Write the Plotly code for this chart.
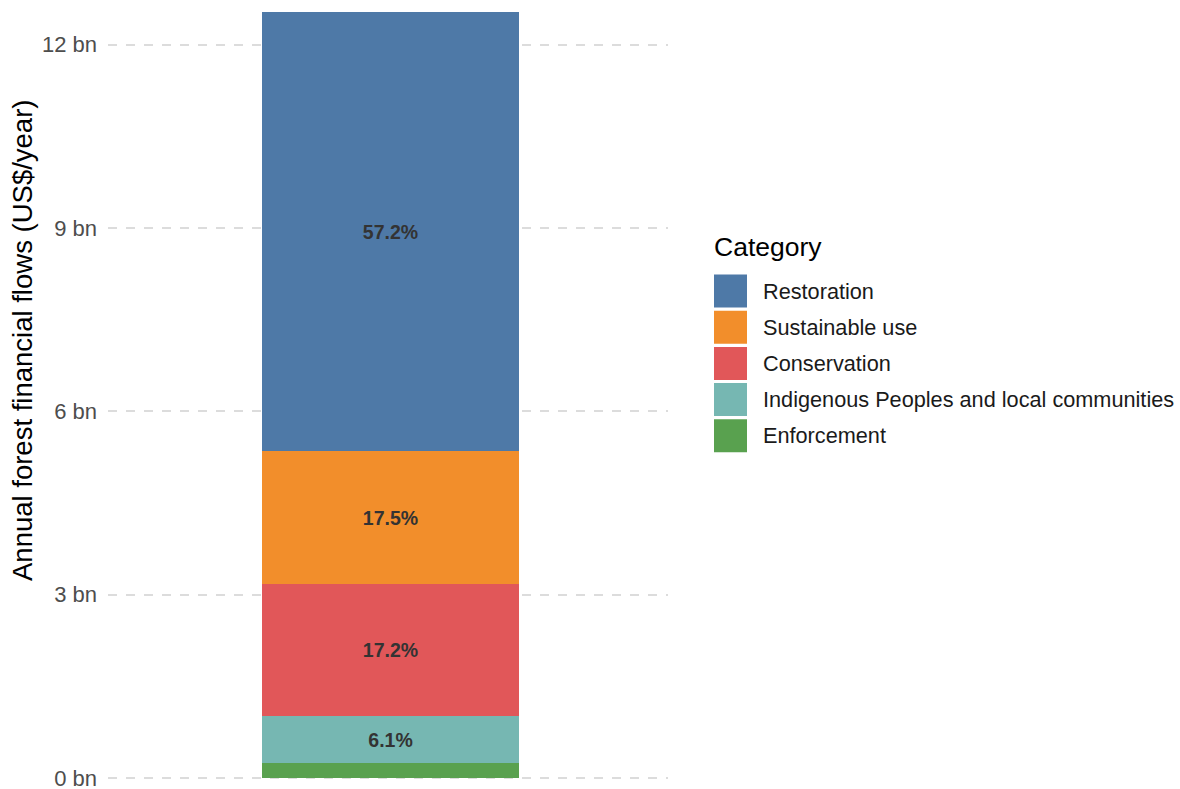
import plotly.graph_objects as go

# ---- data ----
categories = ["Restoration", "Sustainable use", "Conservation",
              "Indigenous Peoples and local communities", "Enforcement"]
values_bn = [7.17, 2.19, 2.155, 0.764, 0.25]
pct_labels = ["57.2%", "17.5%", "17.2%", "6.1%", ""]
colors = ["#4E79A7", "#F28E2B", "#E15759", "#76B7B2", "#59A14F"]
y_tick_vals = [0, 3, 6, 9, 12]
y_tick_text = ["0 bn", "3 bn", "6 bn", "9 bn", "12 bn"]
y_title = "Annual forest financial flows (US$/year)"

# ---- layout geometry ----
W, H = 1180, 789
ML, MR, MT, MB = 108, 512, 11, 9
PW, PH = W - ML - MR, H - MT - MB
FONT = "Liberation Sans, Arial, sans-serif"


def px_x(x):
    return (x - ML) / PW


def px_y(y):
    return (H - MB - y) / PH


fig = go.Figure()
# stack bottom-up: last category at the bottom
for cat, val, lab, col in reversed(list(zip(categories, values_bn, pct_labels, colors))):
    fig.add_trace(go.Bar(
        x=[0], y=[val], name=cat, width=0.55,
        marker=dict(color=col, line=dict(width=0)),
        text=[lab], textposition="inside", insidetextanchor="middle",
        textangle=0, constraintext="none",
        textfont=dict(family=FONT, size=19.5, color="#333333", weight="bold"),
        showlegend=False, hoverinfo="skip",
    ))

# y-axis title
annotations = [dict(
    x=px_x(22), y=px_y(341), xref="paper", yref="paper",
    text=y_title, textangle=-90, showarrow=False,
    xanchor="center", yanchor="middle",
    font=dict(family=FONT, size=27.5, color="#000000"),
)]
# manual legend (large square keys like the reference)
annotations.append(dict(
    x=px_x(712), y=px_y(247), xref="paper", yref="paper",
    text="Category", showarrow=False, xanchor="left", yanchor="middle",
    font=dict(family=FONT, size=26.5, color="#000000"),
))
shapes = []
for i, (cat, col) in enumerate(zip(categories, colors)):
    cy = 291 + 36.2 * i
    shapes.append(dict(
        type="rect", xref="paper", yref="paper",
        x0=px_x(714), x1=px_x(747), y0=px_y(cy + 16.5), y1=px_y(cy - 16.5),
        fillcolor=col, line=dict(width=0),
    ))
    annotations.append(dict(
        x=px_x(761), y=px_y(cy), xref="paper", yref="paper",
        text=cat, showarrow=False, xanchor="left", yanchor="middle",
        font=dict(family=FONT, size=21.7, color="#1a1a1a"),
    ))

fig.update_layout(
    width=W, height=H,
    margin=dict(l=ML, r=MR, t=MT, b=MB, autoexpand=False),
    barmode="stack", bargap=0,
    plot_bgcolor="white", paper_bgcolor="white",
    showlegend=False,
    font=dict(family=FONT),
    annotations=annotations, shapes=shapes,
    xaxis=dict(range=[-0.6054, 0.5946], showticklabels=False, showgrid=False,
               zeroline=False, showline=False, ticks=""),
    yaxis=dict(
        range=[-0.03, 12.55], tickvals=y_tick_vals, ticktext=y_tick_text,
        tickfont=dict(family=FONT, size=22, color="#4d4d4d"),
        ticklabelstandoff=10, ticks="", ticklabeloverflow="allow",
        showgrid=True, gridcolor="#dcdcdc", gridwidth=2, griddash="dash",
        zeroline=False, showline=False,
    ),
)

fig.write_html("out.html")
